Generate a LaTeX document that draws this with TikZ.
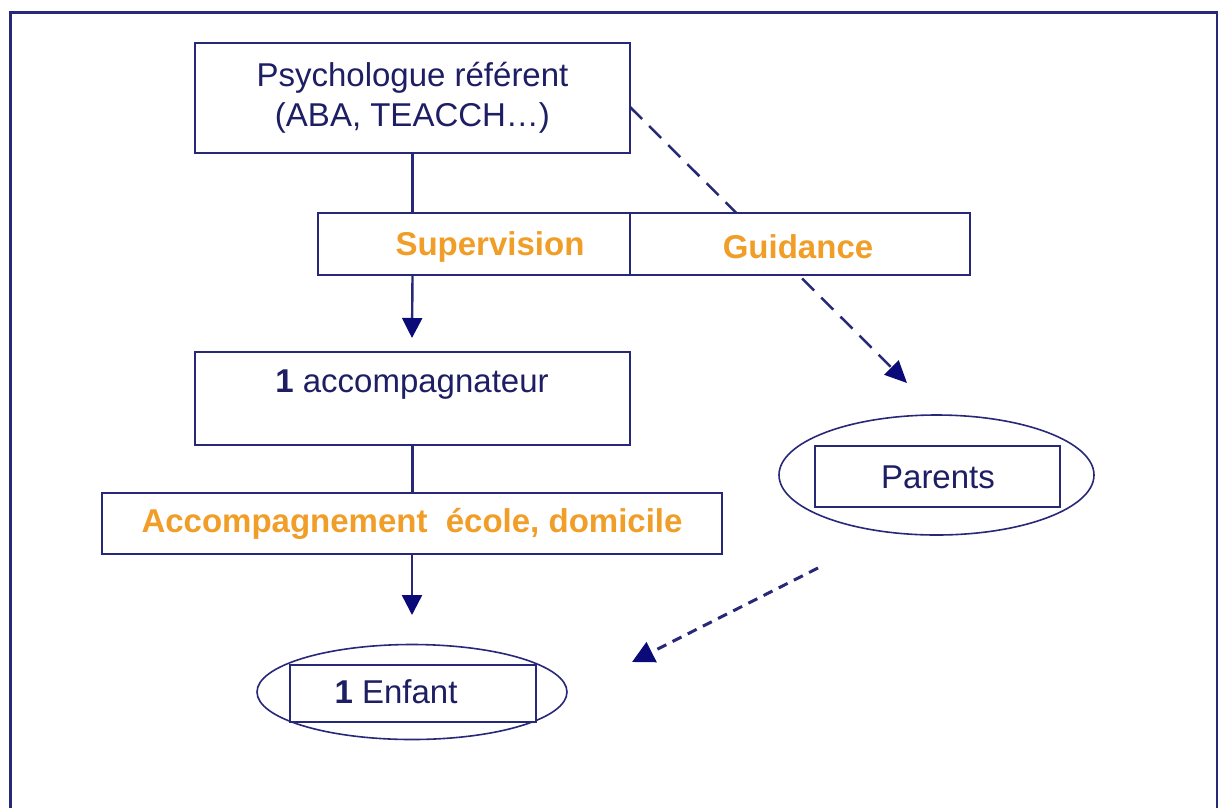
\documentclass[tikz,border=0pt]{standalone}
\usepackage{fontspec}
\setmainfont{Liberation Sans}
\usetikzlibrary{arrows.meta,shapes.geometric}
\definecolor{navyline}{RGB}{40,40,120}
\definecolor{navytip}{RGB}{10,10,120}
\definecolor{navytext}{RGB}{30,30,100}
\definecolor{orangetext}{RGB}{240,158,40}
\tikzset{
  boxnode/.style={draw=navyline, line width=2.4pt, fill=white, rectangle, inner sep=0pt},
  ovalnode/.style={draw=navyline, line width=1.6pt, ellipse, inner sep=0pt},
  plaintext/.style={text=navytext, font=\fontsize{33}{40}\selectfont, inner sep=0pt, align=center},
  orangelabel/.style={text=orangetext, font=\fontsize{33}{38}\selectfont\bfseries},
  solidarrow/.style={draw=navyline, line width=2.4pt, -{Triangle[length=20pt,width=20pt,color=navytip]}},
  dashedarrow/.style={draw=navyline, line width=2.5pt, dash pattern=on 17pt off 10pt, -{Triangle[length=22pt,width=20pt,color=navytip]}},
  dottedarrow/.style={draw=navyline, line width=3pt, dash pattern=on 10pt off 7pt, -{Triangle[length=22pt,width=22pt,color=navytip]}},
  plainline/.style={draw=navyline, line width=2.4pt}
}
\begin{document}
\begin{tikzpicture}[x=1pt,y=-1pt]
\useasboundingbox (0,0) rectangle (1218,807);
\clip (0,0) rectangle (1218,807);
\fill[white] (0,0) rectangle (1218,807);
% frame
\draw[navyline, line width=3pt] (10,12) rectangle (1217,830);

% coordinates for free ends
\coordinate (dashstart) at (630,107);
\coordinate (dashend) at (907,383);
\coordinate (dotstart) at (818,568);
\coordinate (dotend) at (632,662);

% dashed guidance connector (behind the bar)
\draw[dashedarrow] (dashstart) -- (dashend);

% Psychologue box
\node[boxnode, minimum width=435pt, minimum height=110pt] (psy) at (412.5,98) {};
\node[plaintext] (psyt) at (412.5,98) {Psychologue référent\\(ABA, TEACCH…)};

% Supervision / Guidance bar
\node[boxnode, minimum width=312pt, minimum height=62pt] (sup) at (474,244) {};
\node[boxnode, minimum width=340pt, minimum height=62pt] (gui) at (800,244) {};
\node[orangelabel] (supt) at (490,247) {Supervision};
\node[orangelabel] (guit) at (798,247) {Guidance};

% accompagnateur box
\node[boxnode, minimum width=435pt, minimum height=93pt] (acc) at (412.5,398.5) {};
\node[plaintext] (acct) at (412,385) {\textbf{1} accompagnateur};

% Accompagnement bar
\node[boxnode, minimum width=620pt, minimum height=61pt] (accb) at (412,523.5) {};
\node[orangelabel] (accbt) at (412,524) {Accompagnement\ \ école, domicile};

% Enfant
\node[ovalnode, minimum width=310pt, minimum height=95pt] (enfo) at (412,692) {};
\node[boxnode, minimum width=246pt, minimum height=57pt] (enf) at (413,693.5) {};
\node[plaintext] (enft) at (396,692) {\textbf{1} Enfant};

% Parents
\node[ovalnode, minimum width=315pt, minimum height=120pt] (paro) at (936.5,475) {};
\node[boxnode, minimum width=245pt, minimum height=61pt] (par) at (937.5,476.5) {};
\node[plaintext] (part) at (938,477) {Parents};

% connectors
\coordinate (arr1end) at (412,338);
\coordinate (arr2end) at (412,615);
\draw[plainline] (psy.south) -- (psy.south |- sup.north);
\draw[solidarrow] (psy.south |- sup.south) -- (arr1end);
\draw[plainline] (acc.south) -- (acc.south |- accb.north);
\draw[solidarrow] (accb.south) -- (arr2end);
\draw[dottedarrow] (dotstart) -- (dotend);
\end{tikzpicture}
\end{document}
